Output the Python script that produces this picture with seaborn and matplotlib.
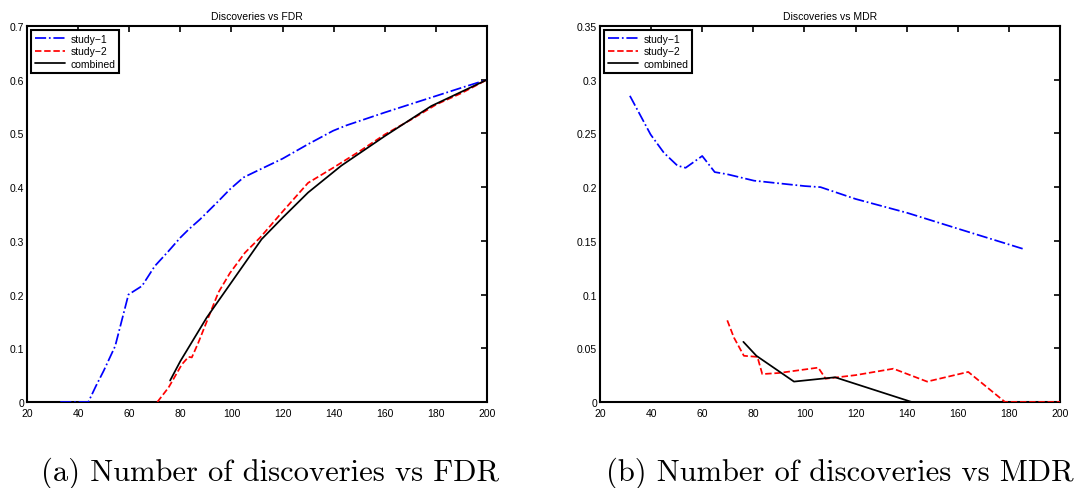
import matplotlib
matplotlib.use("Agg")
import matplotlib.pyplot as plt
import seaborn as sns
import pandas as pd
from matplotlib.ticker import FuncFormatter

# Discoveries vs FDR
fdr_s1_x = [33, 44, 47, 50, 54.5, 59.7, 65, 70, 75.4, 80, 83.2, 87.7, 94.9, 99.4, 104.7, 109.9,
            120, 130, 139.8, 145, 160, 180.2, 190, 200]
fdr_s1_y = [0, 0, 0.03, 0.058, 0.104, 0.2, 0.216, 0.253, 0.281, 0.306, 0.321, 0.34, 0.374, 0.396,
            0.418, 0.43, 0.453, 0.48, 0.505, 0.515, 0.539, 0.57, 0.585, 0.60]
fdr_s2_x = [71, 75.4, 80.6, 83.2, 84.5, 87, 94.9, 99.4, 105.3, 111.2, 120.3, 130, 139.8, 150.2,
            160, 170.4, 180.2, 190, 200]
fdr_s2_y = [0, 0.027, 0.07, 0.084, 0.083, 0.11, 0.204, 0.24, 0.278, 0.306, 0.356, 0.408, 0.436,
            0.467, 0.498, 0.526, 0.554, 0.575, 0.60]
fdr_cb_x = [76, 80, 90.3, 111.8, 120, 130, 143, 160, 178.2, 200]
fdr_cb_y = [0.04, 0.076, 0.157, 0.303, 0.343, 0.39, 0.44, 0.495, 0.551, 0.60]

# Discoveries vs MDR
mdr_s1_x = [31.7, 39.8, 45, 50.3, 53.5, 60, 64.9, 69.8, 80.3, 100.1, 106.3, 120, 140.3, 160.5, 186.3]
mdr_s1_y = [0.285, 0.249, 0.232, 0.22, 0.218, 0.229, 0.214, 0.212, 0.206, 0.201, 0.2, 0.189,
            0.176, 0.161, 0.142]
mdr_s2_x = [69.8, 72.4, 76.3, 81.6, 83.5, 90, 105.4, 108.3, 120, 134.8, 148, 164.1, 178.5, 200]
mdr_s2_y = [0.076, 0.06, 0.043, 0.042, 0.026, 0.027, 0.032, 0.0217, 0.025, 0.031, 0.019, 0.028,
            0.0, 0.0]
mdr_cb_x = [76.1, 81.2, 95.9, 112, 142]
mdr_cb_y = [0.056, 0.043, 0.019, 0.023, 0.0]

series_labels = ["study\u22121", "study\u22122", "combined"]
panel_titles = ["Discoveries vs FDR", "Discoveries vs MDR"]
captions = ["(a) Number of discoveries vs FDR", "(b) Number of discoveries vs MDR"]
x_ticks = [20, 40, 60, 80, 100, 120, 140, 160, 180, 200]
fdr_ticks = [0, 0.1, 0.2, 0.3, 0.4, 0.5, 0.6, 0.7]
mdr_ticks = [0, 0.05, 0.1, 0.15, 0.2, 0.25, 0.3, 0.35]

sns.set_style("white")
plt.rcParams["font.family"] = ["Liberation Sans", "DejaVu Sans"]
plt.rcParams["text.color"] = "black"
plt.rcParams["axes.labelcolor"] = "black"

fig = plt.figure(figsize=(10.89, 4.89), dpi=100)
ax_a = fig.add_axes([27 / 1089, 86 / 489, 460 / 1089, 376 / 489])
ax_b = fig.add_axes([600 / 1089, 86 / 489, 460 / 1089, 376 / 489])

styles = [("#0000ff", "-."), ("#ff0000", "--"), ("#000000", "-")]

panels = [
    (ax_a, [(fdr_s1_x, fdr_s1_y), (fdr_s2_x, fdr_s2_y), (fdr_cb_x, fdr_cb_y)], fdr_ticks, 0.7),
    (ax_b, [(mdr_s1_x, mdr_s1_y), (mdr_s2_x, mdr_s2_y), (mdr_cb_x, mdr_cb_y)], mdr_ticks, 0.35),
]

fmt = FuncFormatter(lambda v, pos: f"{v:g}")

for i, (ax, data, yt, ymax) in enumerate(panels):
    for (xs, ys), label, (col, ls) in zip(data, series_labels, styles):
        df = pd.DataFrame({"x": xs, "y": ys})
        sns.lineplot(data=df, x="x", y="y", ax=ax, color=col, linestyle=ls,
                     linewidth=1.25, label=label, sort=False, estimator=None,
                     zorder=3)
    ax.set_xlim(20, 200)
    ax.set_ylim(0, ymax)
    ax.set_xticks(x_ticks)
    ax.set_yticks(yt)
    ax.xaxis.set_major_formatter(fmt)
    ax.yaxis.set_major_formatter(fmt)
    ax.set_xlabel("")
    ax.set_ylabel("")
    ax.tick_params(direction="in", top=True, right=True, length=4, width=1.2,
                   labelsize=7.5, colors="black")
    ax.tick_params(axis="x", pad=4)
    ax.tick_params(axis="y", pad=2)
    for sp in ax.spines.values():
        sp.set_visible(True)
        sp.set_linewidth(1.5)
        sp.set_color("black")
    ax.set_title(panel_titles[i], fontsize=7.5, pad=5, color="black")
    leg = ax.legend(loc="upper left", fontsize=7.5, handlelength=2.9,
                    borderaxespad=0.4, borderpad=0.35, labelspacing=0.25,
                    handletextpad=0.5, fancybox=False, framealpha=1)
    leg.get_frame().set_edgecolor("black")
    leg.get_frame().set_linewidth(1.5)
    for t in leg.get_texts():
        t.set_color("black")

fig.text(270 / 1089, 8.5 / 489, captions[0], family="cmr10", fontsize=22,
         ha="center", va="baseline", color="black")
fig.text(840 / 1089, 8.5 / 489, captions[1], family="cmr10", fontsize=22,
         ha="center", va="baseline", color="black")

fig.savefig("out.png", dpi=100)
